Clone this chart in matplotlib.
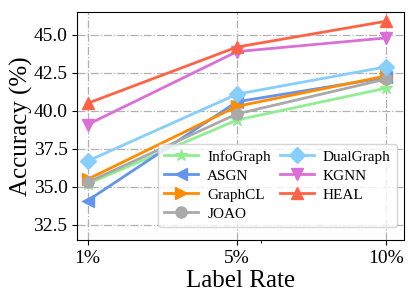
import matplotlib
matplotlib.use("Agg")
import matplotlib.pyplot as plt

plt.rcParams['font.family'] = ['Liberation Serif', 'DejaVu Serif']

rates = ["1%", "5%", "10%"]
methods = ["InfoGraph", "ASGN", "GraphCL", "JOAO", "DualGraph", "KGNN", "HEAL"]
infograph = [35.2, 39.4, 41.5]
asgn = [34.1, 40.6, 42.2]
graphcl = [35.5, 40.3, 42.3]
joao = [35.3, 39.8, 42.1]
dualgraph = [36.7, 41.1, 42.9]
kgnn = [39.1, 43.9, 44.8]
heal = [40.5, 44.2, 45.9]

series = [infograph, asgn, graphcl, joao, dualgraph, kgnn, heal]
colors = ["#90EE90", "#6495ED", "#FF8C00", "#A9A9A9", "#87CEFA", "#DA70D6", "#FF6347"]
markers = ["*", "<", ">", "o", "D", "v", "^"]

fig = plt.figure(figsize=(4.15, 3.02), dpi=100)
ax = fig.add_axes([0.186, 0.205, 0.788, 0.755])
x = list(range(len(rates)))
for name, vals, c, m in zip(methods, series, colors, markers):
    ax.plot(x, vals, color=c, marker=m, markersize=8 if m != "*" else 9, linewidth=2, label=name)

ax.set_xticks(x)
ax.set_xticklabels(rates)
ax.set_xticks([1.16], minor=True)
ax.set_xlim(-0.07, 2.12)
ax.set_ylim(31.5, 46.5)
ax.set_yticks([32.5, 35.0, 37.5, 40.0, 42.5, 45.0])
ax.grid(True, linestyle="-.", color="#b0b0b0", linewidth=0.9)
ax.tick_params(labelsize=14)
ax.set_xlabel("Label Rate", fontsize=18, labelpad=2)
ax.set_ylabel("Accuracy (%)", fontsize=18, labelpad=0)
ax.legend(ncol=2, loc="lower right", fontsize=11, handlelength=2.2,
          columnspacing=0.6, handletextpad=0.6, labelspacing=0.35,
          borderpad=0.4, bbox_to_anchor=(1.0, 0.025))
fig.savefig("out.png", dpi=100)
